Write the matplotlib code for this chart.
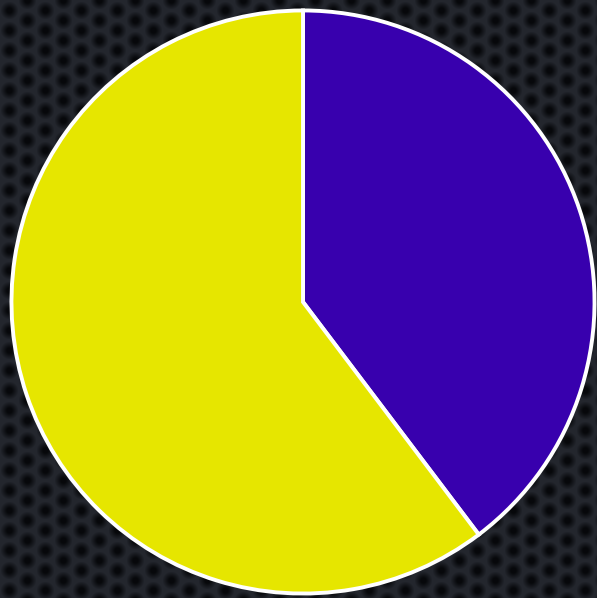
import numpy as np
import matplotlib
matplotlib.use("Agg")
import matplotlib.pyplot as plt

labels = ['A', 'B']
values = [39.7, 60.3]
colors = ['#3800ae', '#e6e600']

fig = plt.figure(figsize=(5.97, 5.98), dpi=100)

# dark carbon-like backdrop (decoration only)
bg = fig.add_axes([0, 0, 1, 1])
h, w = 598, 597
yy, xx = np.mgrid[0:h, 0:w].astype(float)
px, py = 18.0, 20.0
col = np.floor(xx / px)
xs = xx % px - px / 2
ys = (yy + (col % 2) * py / 2) % py - py / 2
d = np.sqrt(xs ** 2 + ys ** 2)
shade = np.clip((d - 2.5) / 6.5, 0, 1)
base = np.array([0x23, 0x26, 0x2d]) / 255
dark = np.array([0x07, 0x08, 0x0b]) / 255
img = dark + (base - dark) * shade[..., None]
bg.imshow(img, aspect='auto', interpolation='bilinear')
bg.axis('off')

ax = fig.add_axes([10 / 597, 3 / 598, 586 / 597, 586 / 598])
ax.pie(values, colors=colors, startangle=90, counterclock=False,
       radius=0.995, wedgeprops={'edgecolor': 'white', 'linewidth': 2.8})
ax.set_xlim(-1, 1)
ax.set_ylim(-1, 1)
ax.axis('off')

fig.savefig('out.png', dpi=100)
